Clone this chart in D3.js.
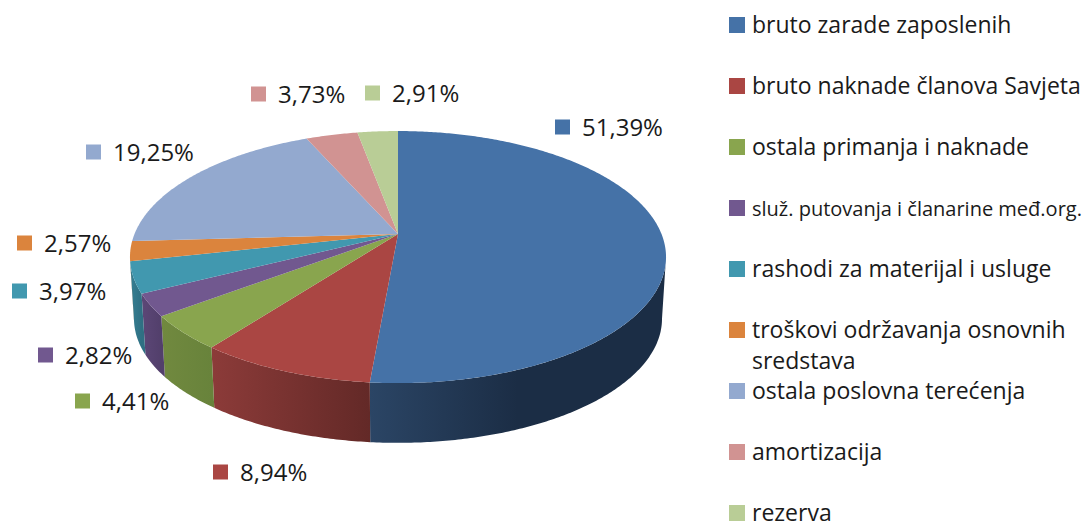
<!DOCTYPE html>
<html>
<head>
<meta charset="utf-8">
<script src="https://cdn.jsdelivr.net/npm/d3@7"></script>
<style>
  html, body { margin: 0; background: #fff; }
  text { font-family: "Open Sans", "Noto Sans", sans-serif; fill: #1a1a1a; }
</style>
</head>
<body>
<div id="chart"></div>
<script>
const categories = [
  'bruto zarade zaposlenih',
  'bruto naknade članova Savjeta',
  'ostala primanja i naknade',
  'služ. putovanja i članarine međ.org.',
  'rashodi za materijal i usluge',
  'troškovi održavanja osnovnih sredstava',
  'ostala poslovna terećenja',
  'amortizacija',
  'rezerva'
];
const values = [51.39, 8.94, 4.41, 2.82, 3.97, 2.57, 19.25, 3.73, 2.91];
const colors = ['#4572a7', '#aa4643', '#89a54e', '#71588f', '#4198af', '#db843d', '#93a9cf', '#d19392', '#b9cd96'];
const sideLeft = ['#2b4565', '#8c3b39', '#71893f', '#5c4777', '#367f92', '#b56d32', '#7a8cab', '#ad7a79', '#99aa7c'];
const sideRight = ['#1b2d45', '#632927', '#68833b', '#523f6b', '#2f7083', '#a0602c', '#6c7c98', '#996c6b', '#88976e'];

// where the data labels sit (marker left edge, marker centre y)
const labelX = [555, 213, 75, 38, 12, 17, 86, 251, 365];
const labelY = [127, 472, 401, 355, 291, 243, 152, 94, 93];

const width = 1088, height = 522;
const fmt = v => v.toFixed(2).replace('.', ',') + '%';

const svg = d3.select('#chart').append('svg')
  .attr('width', width)
  .attr('height', height)
  .style('display', 'block');

// 3d pie: rim of the tilted disc, back edge foreshortened
const cx = 398, cy = 234, rx = 263.5, ry = 121.8, k = 0.183;
const depth = 62, shrink = 0.985;

function rim(a) {
  const w = 1 + k * Math.cos(a);
  return [cx + rx * Math.sin(a) / w, cy - ry * Math.cos(a) / w];
}
function rimLow(a) {
  const p = rim(a);
  return [cx + (p[0] - cx) * shrink, cy + depth + (p[1] - cy) * shrink];
}
function arcAngles(a0, a1) {
  const n = Math.max(2, Math.ceil((a1 - a0) / 0.01));
  return d3.range(n + 1).map(i => a0 + (a1 - a0) * i / n);
}

const pie = d3.pie().sort(null).value(d => d);
const slices = pie(values);
const line = d3.line();

// the sides only show between the two silhouette angles
const sideStart = Math.PI / 2 + Math.asin(k);
const sideEnd = 2 * Math.PI - sideStart;

const defs = svg.append('defs');
const sides = svg.append('g');
slices.forEach((s, i) => {
  const a0 = Math.max(s.startAngle, sideStart);
  const a1 = Math.min(s.endAngle, sideEnd);
  if (a1 <= a0) return;
  const angles = arcAngles(a0, a1);
  const grad = defs.append('linearGradient')
    .attr('id', 'side' + i)
    .attr('gradientUnits', 'userSpaceOnUse')
    .attr('x1', rim(a1)[0]).attr('x2', rim(a0)[0])
    .attr('y1', 0).attr('y2', 0);
  grad.append('stop').attr('offset', 0).attr('stop-color', sideLeft[i]);
  // big blue slice goes dark early
  grad.append('stop').attr('offset', i === 0 ? 0.5 : 1).attr('stop-color', sideRight[i]);
  const pts = angles.map(rim).concat(angles.slice().reverse().map(rimLow));
  sides.append('path')
    .attr('d', line(pts) + 'Z')
    .attr('fill', `url(#side${i})`);
});

svg.append('g').selectAll('path')
  .data(slices)
  .join('path')
  .attr('d', d => line([[cx, cy]].concat(arcAngles(d.startAngle, d.endAngle).map(rim))) + 'Z')
  .attr('fill', (d, i) => colors[i]);

// data labels
const labels = svg.append('g').selectAll('g')
  .data(values)
  .join('g')
  .attr('transform', (d, i) => `translate(${labelX[i]},${labelY[i]})`);
labels.append('rect')
  .attr('y', -7.5).attr('width', 15).attr('height', 15)
  .attr('fill', (d, i) => colors[i]);
labels.append('text')
  .attr('x', 27).attr('y', 8.5)
  .attr('font-size', 24)
  .text(fmt);

// legend
const legendY = d3.scaleLinear().domain([0, 8]).range([25, 513]);
const legend = svg.append('g').selectAll('g')
  .data(categories)
  .join('g')
  .attr('transform', (d, i) => `translate(729,${legendY(i)})`);
legend.append('rect')
  .attr('y', -8).attr('width', 16).attr('height', 16)
  .attr('fill', (d, i) => colors[i]);
legend.append('text')
  .attr('x', 23).attr('y', 7.5)
  // the long entry is set smaller in the original
  .attr('font-size', d => d.startsWith('služ') ? 20 : 23)
  .selectAll('tspan')
  .data(d => d.startsWith('troškovi') ? ['troškovi održavanja osnovnih', 'sredstava'] : [d])
  .join('tspan')
  .attr('x', 23)
  .attr('dy', (d, i) => i ? 31.5 : 0)
  .text(d => d);
</script>
</body>
</html>
